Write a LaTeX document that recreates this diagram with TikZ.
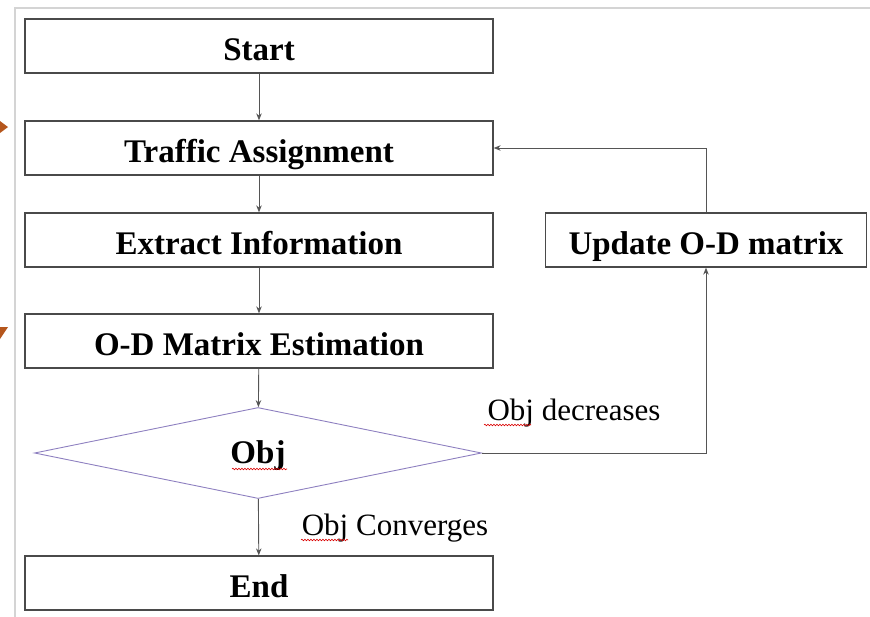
\documentclass[tikz,border=0pt]{standalone}
\usepackage{fontspec}
\setmainfont{Liberation Serif}
\usetikzlibrary{shapes.geometric,arrows.meta,decorations.pathmorphing}
\definecolor{framecol}{HTML}{D4D4D4}
\definecolor{boxcol}{HTML}{4A4A4A}
\definecolor{conncol}{HTML}{555555}
\definecolor{diacol}{HTML}{8E80C0}
\definecolor{orangecol}{HTML}{B5561C}
\begin{document}
\begin{tikzpicture}[x=1pt,y=-1pt,
  stepbox/.style={draw=boxcol, line width=1.3pt, minimum height=54pt, inner sep=0pt,
    text height=30pt, text depth=2pt,
    font=\fontsize{33}{38}\selectfont\bfseries},
  conn/.style={draw=conncol, line width=0.9pt, -{Stealth[length=7pt,width=5.5pt]}},
  lbl/.style={font=\fontsize{31}{35}\selectfont, inner sep=0pt},
  squiggle/.style={draw=red!85!black, line width=0.6pt, decorate,
    decoration={snake, amplitude=0.8pt, segment length=3pt}}]
\useasboundingbox (0,0) rectangle (870,616);
% outer frame
\draw[framecol, line width=2pt] (880,8) -- (15,8) -- (15,630);
% orange arrow fragments at the left edge
\fill[orangecol] (0,121) -- (8,127) -- (0,133) -- cycle;
\fill[orangecol] (0,327) -- (8,327) -- (0,339) -- cycle;
% boxes
\node[stepbox, minimum width=468pt] (start) at (259,46) {Start};
\node[stepbox, minimum width=468pt] (traffic) at (259,148) {Traffic Assignment};
\node[stepbox, minimum width=468pt] (extract) at (259,240) {Extract Information};
\node[stepbox, minimum width=468pt] (odest) at (259,341) {O-D Matrix Estimation};
\node[stepbox, minimum width=468pt] (end) at (259,583) {End};
\node[stepbox, minimum width=321pt] (update) at (706,240) {Update O-D matrix};
\node[diamond, draw=diacol, line width=0.9pt, aspect=4.9, minimum width=447pt,
  minimum height=91pt, inner sep=0pt, text height=22pt, text depth=2pt,
  font=\fontsize{33}{38}\selectfont\bfseries]
  (obj) at (258,453) {Obj};
% connectors
\draw[conn] (start) -- (traffic);
\draw[conn] (traffic) -- (extract);
\draw[conn] (extract) -- (odest);
\draw[conn] (odest) -- (obj);
\draw[conn] (obj) -- (end);
\draw[conn] (obj.east) -| (update.south);
\draw[conn] (update.north) |- (traffic.east);
% labels
\node[lbl] (dec) at (574,413) {Obj decreases};
\node[lbl] (conv) at (395,528) {Obj Converges};
% spell-check underlines
\draw[squiggle] (232,469) -- (287,469);
\draw[squiggle] (484,425) -- (531,425);
\draw[squiggle] (301,540) -- (348,540);
\end{tikzpicture}
\end{document}
